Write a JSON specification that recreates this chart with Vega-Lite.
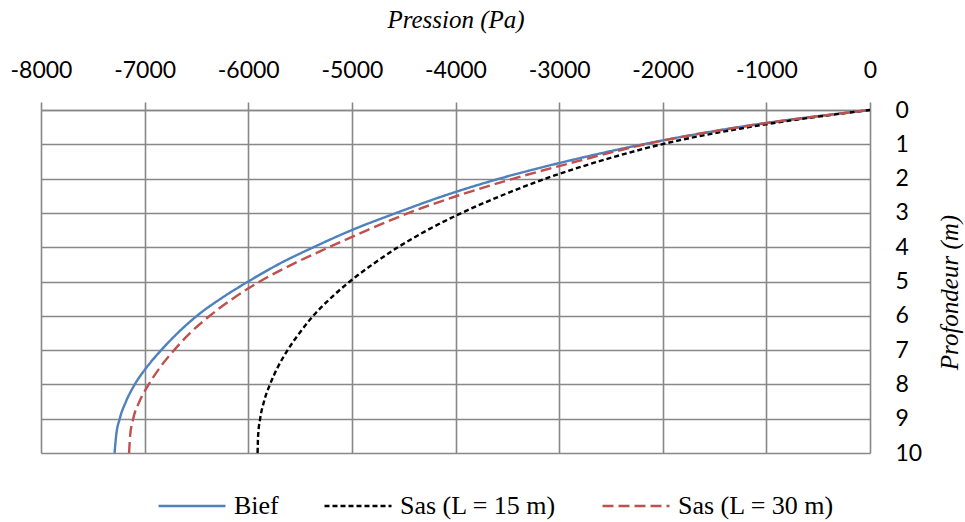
{
  "$schema": "https://vega.github.io/schema/vega-lite/v6.json",
  "width": 829,
  "height": 343,
  "autosize": {"type": "none"},
  "padding": {"left": 41, "top": 110, "right": 95, "bottom": 69},
  "background": "white",
  "config": {
    "view": {"stroke": null},
    "axis": {
      "labelFont": "Lato",
      "labelFontSize": 23,
      "labelColor": "#000000",
      "labelOverlap": false,
      "labelFlush": false,
      "titleFont": "Liberation Serif",
      "titleFontStyle": "italic",
      "titleFontWeight": "normal",
      "titleFontSize": 25,
      "titleColor": "#000000",
      "gridColor": "#888888",
      "gridWidth": 1.6,
      "gridOpacity": 1,
      "domainColor": "#888888",
      "domainWidth": 1.6,
      "tickColor": "#888888",
      "tickWidth": 1.6
    },
    "legend": {
      "orient": "none",
      "direction": "horizontal",
      "legendX": 116,
      "legendY": 361,
      "symbolType": "stroke",
      "symbolSize": 4489,
      "symbolStrokeWidth": 2.4,
      "labelFont": "Liberation Serif",
      "labelFontSize": 26,
      "labelColor": "#000000",
      "labelOffset": 7,
      "columnPadding": 40
    }
  },
  "data": {
    "values": [
      {"serie": "Bief", "z": 0, "p": 0},
      {"serie": "Bief", "z": 0.5, "p": -1270},
      {"serie": "Bief", "z": 1, "p": -2190},
      {"serie": "Bief", "z": 1.5, "p": -2935},
      {"serie": "Bief", "z": 2, "p": -3575},
      {"serie": "Bief", "z": 2.5, "p": -4110},
      {"serie": "Bief", "z": 3, "p": -4570},
      {"serie": "Bief", "z": 3.5, "p": -5000},
      {"serie": "Bief", "z": 4, "p": -5370},
      {"serie": "Bief", "z": 4.5, "p": -5710},
      {"serie": "Bief", "z": 5, "p": -6000},
      {"serie": "Bief", "z": 5.5, "p": -6265},
      {"serie": "Bief", "z": 6, "p": -6495},
      {"serie": "Bief", "z": 6.5, "p": -6680},
      {"serie": "Bief", "z": 7, "p": -6840},
      {"serie": "Bief", "z": 7.5, "p": -6980},
      {"serie": "Bief", "z": 8, "p": -7095},
      {"serie": "Bief", "z": 8.5, "p": -7180},
      {"serie": "Bief", "z": 9, "p": -7240},
      {"serie": "Bief", "z": 9.5, "p": -7275},
      {"serie": "Bief", "z": 10, "p": -7290},

      {"serie": "Sas (L = 15 m)", "z": 0, "p": 0},
      {"serie": "Sas (L = 15 m)", "z": 0.5, "p": -1170},
      {"serie": "Sas (L = 15 m)", "z": 1, "p": -2010},
      {"serie": "Sas (L = 15 m)", "z": 1.5, "p": -2620},
      {"serie": "Sas (L = 15 m)", "z": 2, "p": -3130},
      {"serie": "Sas (L = 15 m)", "z": 2.5, "p": -3560},
      {"serie": "Sas (L = 15 m)", "z": 3, "p": -3940},
      {"serie": "Sas (L = 15 m)", "z": 3.5, "p": -4270},
      {"serie": "Sas (L = 15 m)", "z": 4, "p": -4555},
      {"serie": "Sas (L = 15 m)", "z": 4.5, "p": -4800},
      {"serie": "Sas (L = 15 m)", "z": 5, "p": -5020},
      {"serie": "Sas (L = 15 m)", "z": 5.5, "p": -5210},
      {"serie": "Sas (L = 15 m)", "z": 6, "p": -5373},
      {"serie": "Sas (L = 15 m)", "z": 6.5, "p": -5505},
      {"serie": "Sas (L = 15 m)", "z": 7, "p": -5620},
      {"serie": "Sas (L = 15 m)", "z": 7.5, "p": -5715},
      {"serie": "Sas (L = 15 m)", "z": 8, "p": -5790},
      {"serie": "Sas (L = 15 m)", "z": 8.5, "p": -5848},
      {"serie": "Sas (L = 15 m)", "z": 9, "p": -5885},
      {"serie": "Sas (L = 15 m)", "z": 9.5, "p": -5905},
      {"serie": "Sas (L = 15 m)", "z": 10, "p": -5910},

      {"serie": "Sas (L = 30 m)", "z": 0, "p": 0},
      {"serie": "Sas (L = 30 m)", "z": 0.5, "p": -1260},
      {"serie": "Sas (L = 30 m)", "z": 1, "p": -2170},
      {"serie": "Sas (L = 30 m)", "z": 1.5, "p": -2830},
      {"serie": "Sas (L = 30 m)", "z": 2, "p": -3440},
      {"serie": "Sas (L = 30 m)", "z": 2.5, "p": -3980},
      {"serie": "Sas (L = 30 m)", "z": 3, "p": -4450},
      {"serie": "Sas (L = 30 m)", "z": 3.5, "p": -4850},
      {"serie": "Sas (L = 30 m)", "z": 4, "p": -5220},
      {"serie": "Sas (L = 30 m)", "z": 4.5, "p": -5575},
      {"serie": "Sas (L = 30 m)", "z": 5, "p": -5888},
      {"serie": "Sas (L = 30 m)", "z": 5.5, "p": -6150},
      {"serie": "Sas (L = 30 m)", "z": 6, "p": -6371},
      {"serie": "Sas (L = 30 m)", "z": 6.5, "p": -6560},
      {"serie": "Sas (L = 30 m)", "z": 7, "p": -6715},
      {"serie": "Sas (L = 30 m)", "z": 7.5, "p": -6850},
      {"serie": "Sas (L = 30 m)", "z": 8, "p": -6960},
      {"serie": "Sas (L = 30 m)", "z": 8.5, "p": -7050},
      {"serie": "Sas (L = 30 m)", "z": 9, "p": -7110},
      {"serie": "Sas (L = 30 m)", "z": 9.5, "p": -7140},
      {"serie": "Sas (L = 30 m)", "z": 10, "p": -7150}
    ]
  },
  "mark": {"type": "line", "interpolate": "monotone", "strokeWidth": 2.4},
  "encoding": {
    "x": {
      "field": "p",
      "type": "quantitative",
      "scale": {"domain": [-8000, 0], "nice": false, "zero": false},
      "axis": {
        "orient": "top",
        "title": "Pression (Pa)",
        "values": [-8000, -7000, -6000, -5000, -4000, -3000, -2000, -1000, 0],
        "labelExpr": "'' + datum.value",
        "tickSize": 8,
        "labelPadding": 20,
        "domain": true,
        "titleY": -83,
        "titleBaseline": "alphabetic"
      }
    },
    "y": {
      "field": "z",
      "type": "quantitative",
      "scale": {"domain": [0, 10], "reverse": true, "nice": false, "zero": false},
      "axis": {
        "orient": "right",
        "title": "Profondeur (m)",
        "values": [0, 1, 2, 3, 4, 5, 6, 7, 8, 9, 10],
        "ticks": false,
        "domain": false,
        "labelPadding": 25,
        "titleAngle": 270,
        "titleX": 87,
        "titleY": 182,
        "titleAlign": "center",
        "titleBaseline": "alphabetic"
      }
    },
    "color": {
      "field": "serie",
      "type": "nominal",
      "scale": {
        "domain": ["Bief", "Sas (L = 15 m)", "Sas (L = 30 m)"],
        "range": ["#4F81BD", "#000000", "#C0504D"]
      },
      "legend": {"title": null}
    },
    "strokeDash": {
      "field": "serie",
      "type": "nominal",
      "scale": {
        "domain": ["Bief", "Sas (L = 15 m)", "Sas (L = 30 m)"],
        "range": [[1, 0], [5, 3], [11, 5]]
      },
      "legend": {"title": null}
    }
  }
}
